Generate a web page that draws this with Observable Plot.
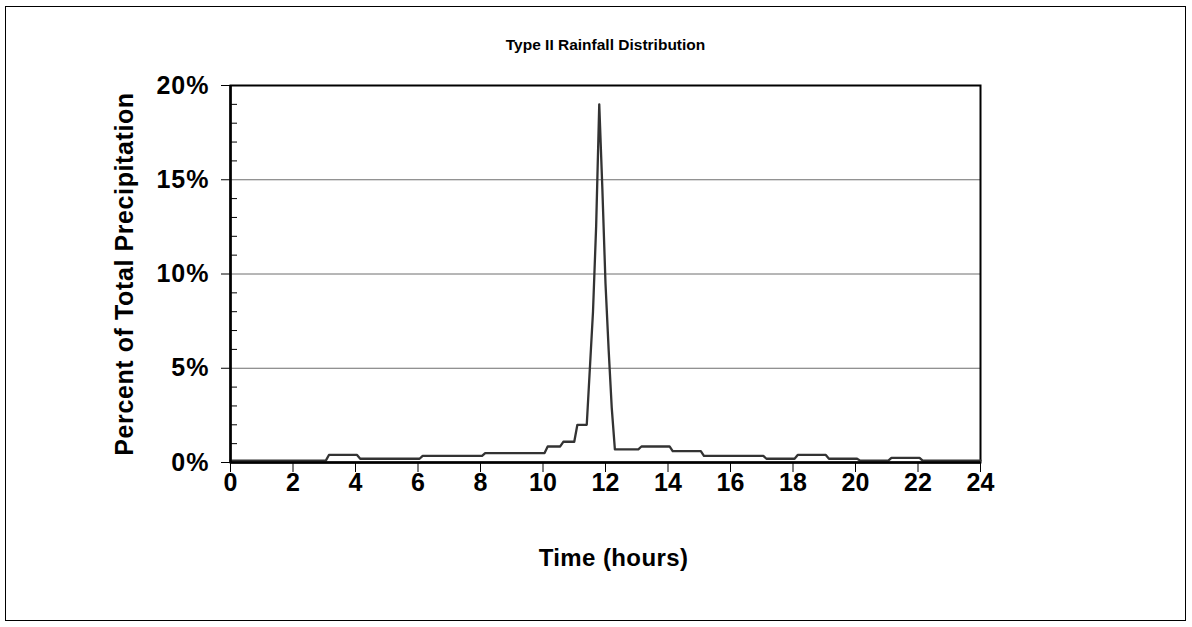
<!DOCTYPE html>
<html>
<head>
<meta charset="utf-8">
<script src="https://cdn.jsdelivr.net/npm/d3@7"></script>
<script src="https://cdn.jsdelivr.net/npm/@observablehq/plot@0.6"></script>
<style>
  html, body { margin: 0; padding: 0; background: #fff; }
  #wrap { position: relative; width: 1192px; height: 627px; overflow: hidden; }
  #border { position: absolute; left: 5px; top: 6px; width: 1179px; height: 613px; border: 1.5px solid #000; pointer-events: none; }
  #chart { position: absolute; left: 0; top: 0; }
</style>
</head>
<body>
<div id="wrap">
  <div id="chart"></div>
  <div id="border"></div>
</div>
<script>
// Vertices of the plotted line (time in hours, percent of total precipitation)
const hours = [0, 3.05, 3.15, 4.05, 4.15, 6.05, 6.15, 8.05, 8.15, 10.05, 10.15, 10.55, 10.65, 11.0, 11.1, 11.4,
  11.5, 11.6, 11.7, 11.8, 11.9, 12.0, 12.1, 12.2, 12.3, 13.05, 13.15, 14.05, 14.15, 15.05, 15.15,
  17.05, 17.15, 18.05, 18.15, 19.05, 19.15, 20.05, 20.15, 21.05, 21.15, 22.05, 22.15, 24];
const percent = [0.1, 0.1, 0.4, 0.4, 0.2, 0.2, 0.35, 0.35, 0.5, 0.5, 0.85, 0.85, 1.1, 1.1, 2.0, 2.0,
  5, 8, 12.5, 19, 14.5, 9.5, 6, 2.9, 0.7, 0.7, 0.85, 0.85, 0.6, 0.6, 0.35,
  0.35, 0.2, 0.2, 0.4, 0.4, 0.2, 0.2, 0.1, 0.1, 0.25, 0.25, 0.1, 0.1];

const xTicks = [0, 2, 4, 6, 8, 10, 12, 14, 16, 18, 20, 22, 24];
const yTicks = [0, 5, 10, 15, 20];
const yMinorTicks = [1, 2, 3, 4, 6, 7, 8, 9, 11, 12, 13, 14, 16, 17, 18, 19];
const gridValues = [5, 10, 15];

const titleText = "Type II Rainfall Distribution";
const xLabel = "Time (hours)";
const yLabel = "Percent of Total Precipitation";

const data = hours.map((h, i) => ({h, p: percent[i]}));

const chart = Plot.plot({
  width: 1192,
  height: 627,
  marginLeft: 230,
  marginRight: 212,
  marginTop: 85,
  marginBottom: 165,
  style: {fontFamily: "'Liberation Sans', Arial, sans-serif", fontSize: "25px", fontWeight: "bold", color: "#000", background: "#fff"},
  x: {domain: [0, 24]},
  y: {domain: [0, 20]},
  marks: [
    Plot.ruleY(gridValues, {stroke: "#6e6e6e", strokeWidth: 1}),
    Plot.frame({stroke: "#000", strokeWidth: 2}),
    Plot.line(data, {x: "h", y: "p", stroke: "#333", strokeWidth: 2.3}),
    Plot.ruleX([0], {stroke: "#000", strokeWidth: 2.5}),
    Plot.ruleY([0], {stroke: "#000", strokeWidth: 2.5}),
    Plot.axisY({ticks: yMinorTicks, tickSize: 7, dx: 7, text: null, label: null, stroke: "#000", strokeWidth: 1}),
    Plot.axisY({ticks: yTicks, tickSize: 9, tickPadding: 12, tickFormat: d => d + "%", label: null, stroke: "#000", strokeWidth: 1, fontSize: 25, fill: "#000", className: "ytk"}),
    Plot.axisX({ticks: xTicks, tickSize: 10, tickPadding: 1, label: null, stroke: "#000", strokeWidth: 1, fontSize: 25, fill: "#000"}),
    Plot.text([titleText], {frameAnchor: "top", dy: -40, lineAnchor: "middle", fontSize: 15.5, fontWeight: "bold", fill: "#000"}),
    Plot.text([xLabel], {frameAnchor: "bottom", dx: 8, dy: 96, lineAnchor: "middle", fontSize: 24, fontWeight: "bold", fill: "#000", className: "xlab"}),
    Plot.text([yLabel], {frameAnchor: "left", dx: -106, rotate: -90, textAnchor: "middle", lineAnchor: "middle", fontSize: 25, fontWeight: "bold", fill: "#000", className: "ylab"})
  ]
});
d3.select(chart).selectAll(".ylab text").attr("letter-spacing", "0.6px");
d3.select(chart).selectAll(".xlab text").attr("letter-spacing", "0.4px");
d3.select(chart).selectAll(".ytk text").attr("letter-spacing", "1px");
document.getElementById("chart").appendChild(chart);
</script>
</body>
</html>
